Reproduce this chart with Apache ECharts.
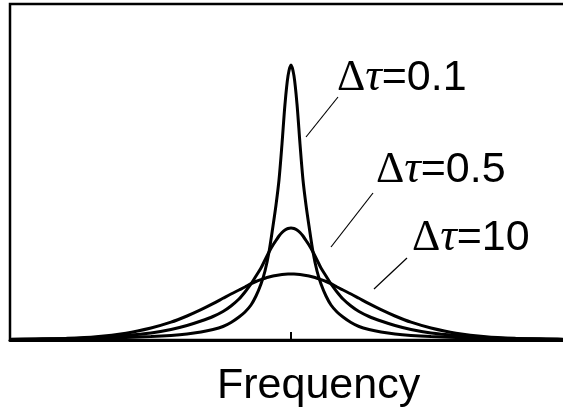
<!DOCTYPE html>
<html>
<head>
<meta charset="utf-8">
<script src="https://cdn.jsdelivr.net/npm/echarts@6/dist/echarts.min.js"></script>
<style>
html,body{margin:0;padding:0;background:#fff;overflow:hidden;}
#c{width:563px;height:416px;}
</style>
</head>
<body>
<div id="c"></div>
<script>
// Frequency offset from resonance (arbitrary units)
var offsets = [-281,-255,-225,-195,-165,-140,-120,-104,-90,-78,-68,-60,-52,-46,-40,-35,-30,-26,-22,-18,-15,-12,-9,-6,-3,0,3,6,9,12,15,18,22,26,30,35,40,46,52,60,68,78,90,104,120,140,165,195,225,255,281];
// Intensity for each value of Δτ
var tau01 = [0.7,1,1.3,1.8,2.6,3.5,4.6,6,8,10.5,13.5,17.5,23,28,35,44,56,69,88,114,135,160,196,236,264,275,264,236,196,160,135,114,88,69,56,44,35,28,23,17.5,13.5,10.5,8,6,4.6,3.5,2.6,1.8,1.3,1,0.7];
var tau05 = [0.5,0.8,1.3,2.5,4.5,7,10.5,14.5,19,23.5,28.5,34,41,48,56,64,72,80,88,95,99.5,104,107.5,110,111.5,112,111.5,110,107.5,104,99.5,95,88,80,72,64,56,48,41,34,28.5,23.5,19,14.5,10.5,7,4.5,2.5,1.3,0.8,0.5];
var tau10 = [0.5,0.8,1.6,3.2,6.8,12,17.8,24,30.3,36.3,41.7,46,50,53,56.3,58.5,60.4,61.8,63,64,64.6,65.1,65.5,65.8,65.95,66,65.95,65.8,65.5,65.1,64.6,64,63,61.8,60.4,58.5,56.3,53,50,46,41.7,36.3,30.3,24,17.8,12,6.8,3.2,1.6,0.8,0.5];
var labelValues = ['0.1','0.5','10'];
var seriesValues = [tau01, tau05, tau10];
// leader lines [label end, curve end] in data units
var leaders = [
  [[47,243],[15,203]],
  [[82,147],[40,93]],
  [[116,82],[83,51]]
];
var xName = 'Frequency';

function pairs(vals){ return offsets.map(function(x,i){ return [x, vals[i]]; }); }

var chart = echarts.init(document.getElementById('c'), null, {renderer:'canvas', width:563, height:416});
var series = seriesValues.map(function(v, i){
  return {
    name: 'Δτ=' + labelValues[i],
    type: 'line',
    data: pairs(v),
    smooth: 0.3,
    symbol: 'none',
    lineStyle: {color:'#000', width:3},
    silent: true,
    markLine: {
      silent: true,
      symbol: ['none','none'],
      label: {show:false},
      lineStyle: {color:'#000', width:1.2, type:'solid'},
      data: [[{coord: leaders[i][0]}, {coord: leaders[i][1]}]]
    }
  };
});

var rich = {
  d: {fontFamily:'Liberation Serif', fontSize:44, lineHeight:50, color:'#000'},
  t: {fontFamily:'Liberation Serif', fontStyle:'italic', fontSize:46, lineHeight:50, color:'#000'},
  n: {fontFamily:'Liberation Sans', fontSize:43, lineHeight:50, color:'#000'}
};
var labelPos = [[337,78],[376,170],[412,238]];
var titles = labelValues.map(function(t, i){
  return {
    text:'{d|Δ}{t|τ}{n|=' + t + '}', left: labelPos[i][0], top: labelPos[i][1] - 25, padding:0,
    textStyle:{rich: rich, fontWeight:'normal'}
  };
});
titles.push({
  text: xName, left:217, top:361, padding:0,
  textStyle:{fontFamily:'Liberation Sans', fontSize:43, lineHeight:50, fontWeight:'normal', color:'#000'}
});

chart.setOption({
  animation:false,
  backgroundColor:'#fff',
  title: titles,
  grid:{left:10, top:4, width:562, height:336, show:true, borderColor:'#000', borderWidth:2.5, backgroundColor:'transparent', outerBoundsMode:'none', containLabel:false},
  xAxis:{
    type:'value', min:-281, max:281, position:'bottom',
    axisLine:{show:true, onZero:false, lineStyle:{color:'#000', width:3}},
    axisTick:{show:true, inside:true, length:8, customValues:[0], lineStyle:{color:'#000', width:2}},
    axisLabel:{show:false},
    splitLine:{show:false}
  },
  yAxis:{
    type:'value', min:0, max:336,
    axisLine:{show:false}, axisTick:{show:false}, axisLabel:{show:false}, splitLine:{show:false}
  },
  series: series,
  graphic: [{
    type:'rect', silent:true, z:100,
    shape:{x:557, y:6, width:8, height:331},
    style:{fill:'#fff'}
  }]
});
</script>
</body>
</html>
